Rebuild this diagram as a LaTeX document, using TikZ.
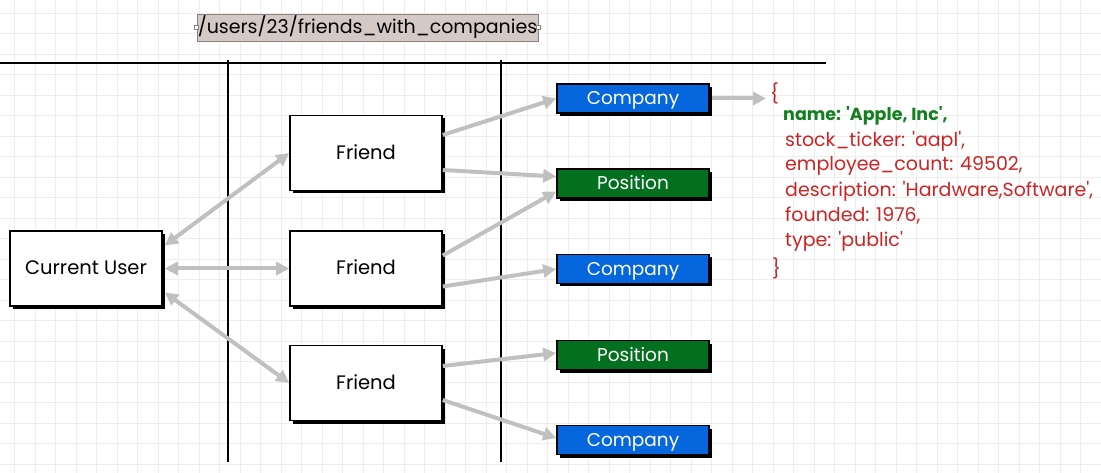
\documentclass[tikz,border=0pt]{standalone}
\usepackage{fontspec}
\setmainfont{Poppins}
\usetikzlibrary{arrows.meta,shadows,calc}
\definecolor{cblue}{RGB}{5,102,222}
\definecolor{cgreen}{RGB}{2,112,30}
\definecolor{jred}{RGB}{204,36,36}
\definecolor{jgreen}{RGB}{18,128,30}
\definecolor{tfill}{RGB}{212,201,197}
\definecolor{tdraw}{RGB}{140,128,126}
\definecolor{arr}{RGB}{192,192,192}
\newcommand\sq{\textquotesingle}
\begin{document}
\begin{tikzpicture}[x=1pt,y=-1pt,
  shad/.style={drop shadow={shadow xshift=3pt,shadow yshift=-3pt,fill=black,opacity=1}},
  box/.style={shad,draw=black,line width=1.6pt,fill=white,minimum width=152pt,minimum height=75pt,inner sep=0pt,text height=13pt,text depth=0pt,font=\fontsize{19.5}{22}\selectfont},
  tag/.style={shad,draw=black,line width=1.6pt,minimum width=152pt,minimum height=29pt,inner sep=0pt,text height=13pt,text depth=0pt,text=white,font=\fontsize{18.5}{20}\selectfont},
  comp/.style={tag,fill=cblue},
  posn/.style={tag,fill=cgreen},
  conn/.style={draw=arr,line width=4pt,-{Triangle[length=13pt,width=13pt]}},
  dconn/.style={draw=arr,line width=4pt,{Triangle[length=13pt,width=13pt]}-{Triangle[length=13pt,width=13pt]}},
  json/.style={anchor=west,inner sep=0pt,text=jred,font=\fontsize{19}{22}\selectfont},
  handle/.style={draw=tdraw,fill=white,line width=0.6pt,minimum size=4pt,inner sep=0pt},
  rule/.style={draw=black,line width=1.8pt}
]
\useasboundingbox (0,0) rectangle (1101,473);
\fill[white] (0,0) rectangle (1101,473);
% grid
\foreach \gx in {-6,14.5,...,1101} \draw[black!7,line width=0.7pt] (\gx,0) -- (\gx,473);
\foreach \gy in {-7.5,13,...,473} \draw[black!7,line width=0.7pt] (0,\gy) -- (1101,\gy);

% title
\node[draw=tdraw,fill=tfill,line width=0.8pt,minimum width=341pt,minimum height=27pt,inner sep=0pt,text height=13pt,text depth=0pt,font=\fontsize{19}{21}\selectfont] (title) at (367.5,27.5) {/users/23/friends\_with\_companies};
\node[handle] (h1) at (title.west) {};
\node[handle] (h2) at (title.east) {};

% rules
\coordinate (r0) at (0,63);
\coordinate (r1) at (826,63);
\coordinate (va) at (228,60);
\coordinate (vb) at (228,462);
\coordinate (wa) at (501,60);
\coordinate (wb) at (501,462);
\draw[rule] (r0) -- (r1);
\draw[rule] (va) -- (vb);
\draw[rule] (wa) -- (wb);

% boxes
\node[box] (cu) at (86,268.5) {Current User};
\node[box] (f1) at (366,153) {Friend};
\node[box] (f2) at (366,268.5) {Friend};
\node[box] (f3) at (366,383) {Friend};
\node[comp] (c1) at (633,98.5) {Company};
\node[posn] (p1) at (633,183.5) {Position};
\node[comp] (c2) at (633,269) {Company};
\node[posn] (p2) at (633,355) {Position};
\node[comp] (c3) at (633,440) {Company};

% json
\node[json] (jo) at (770,93) {\{};
\node[json,text=jgreen,font=\fontsize{17.5}{20}\selectfont\bfseries] (j1) at (783,116) {name: \sq Apple, Inc\sq,};
\node[json] (j2) at (785,141) {stock\_ticker: \sq aapl\sq,};
\node[json] (j3) at (785,166) {employee\_count: 49502,};
\node[json] (j4) at (785,191) {description: \sq Hardware,Software\sq,};
\node[json] (j5) at (785,216) {founded: 1976,};
\node[json] (j6) at (785,241) {type: \sq public\sq};
\node[json] (jc) at (772,268) {\}};

% connectors
\draw[dconn] ($(cu.east)+(2,-23)$) -- (f1.west);
\draw[dconn] ($(cu.east)+(2,0)$) -- (f2.west);
\draw[dconn] ($(cu.east)+(2,24)$) -- (f3.west);
\draw[conn] ($(f1.east)+(0,-18)$) -- (c1.west);
\draw[conn] ($(f1.east)+(0,17)$) -- ($(p1.west)+(0,-7)$);
\draw[conn] ($(f2.east)+(0,-13)$) -- ($(p1.west)+(0,8)$);
\draw[conn] ($(f2.east)+(0,18)$) -- (c2.west);
\draw[conn] ($(f3.east)+(0,-17)$) -- ($(p2.west)+(0,-2)$);
\draw[conn] ($(f3.east)+(0,17)$) -- ($(c3.west)+(0,-2)$);
\draw[conn] ($(c1.east)+(2,0)$) -- ($(jo.west)+(-4,5.5)$);
\end{tikzpicture}
\end{document}
